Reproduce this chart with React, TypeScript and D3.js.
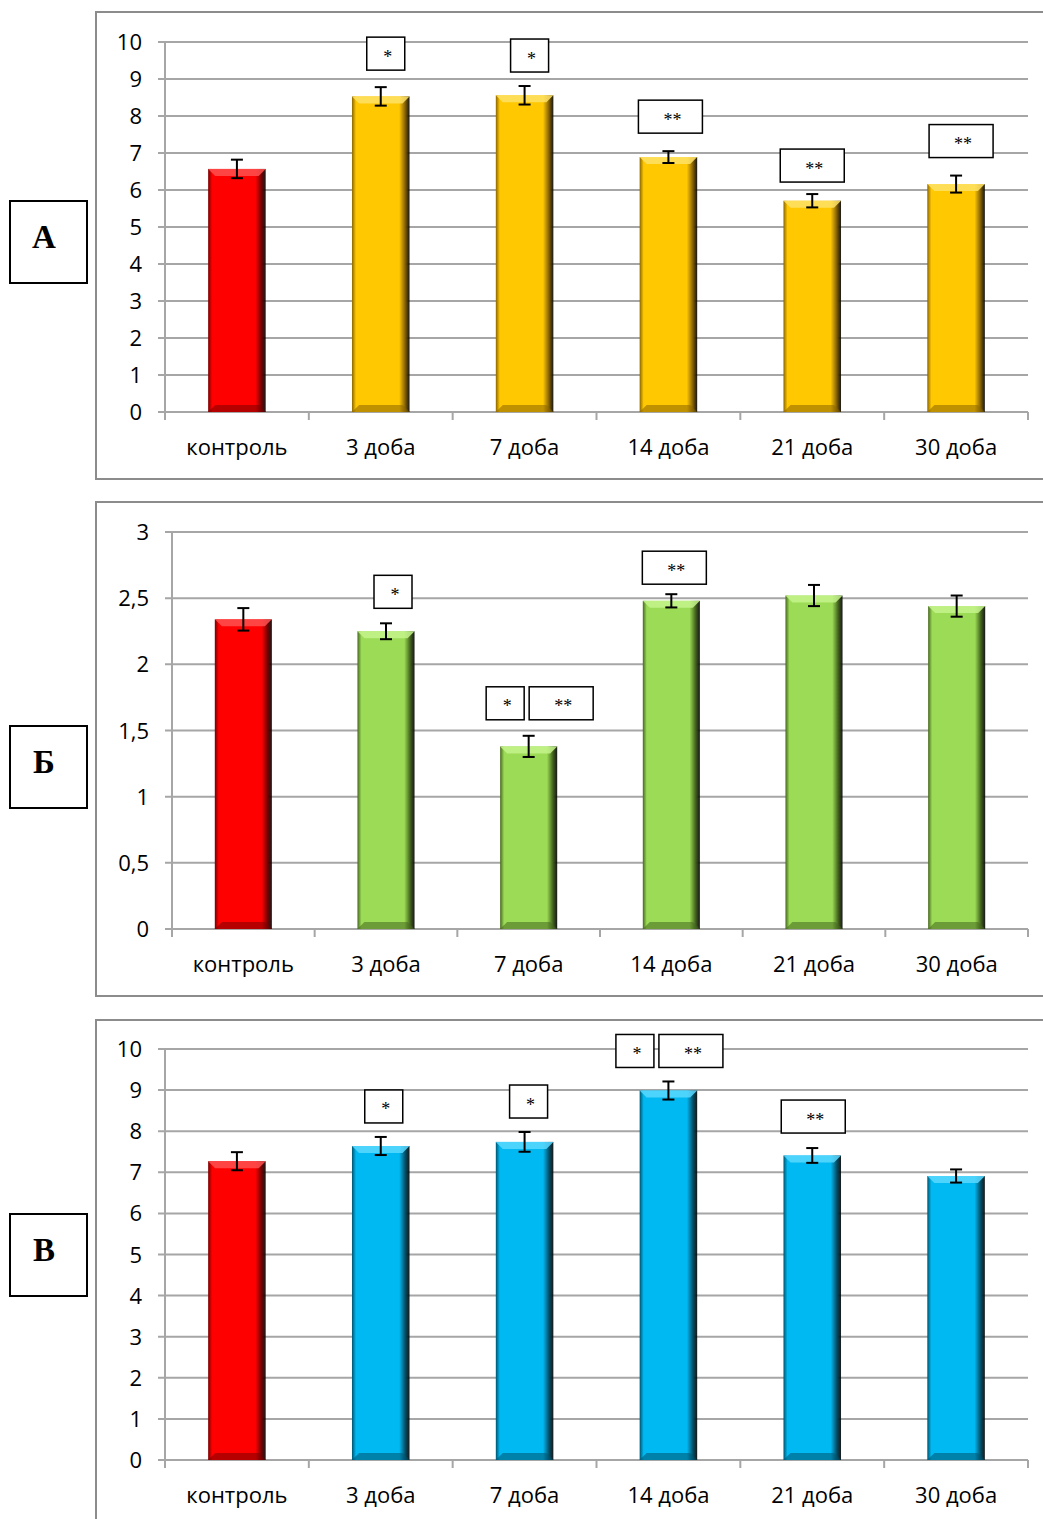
import React from "react";
import * as d3 from "d3";

const categories = ["контроль", "3 доба", "7 доба", "14 доба", "21 доба", "30 доба"];

const valuesA = [6.57, 8.53, 8.56, 6.89, 5.71, 6.16];
const errorsA = [0.25, 0.25, 0.25, 0.16, 0.18, 0.23];
const valuesB = [2.34, 2.25, 1.38, 2.48, 2.52, 2.44];
const errorsB = [0.085, 0.06, 0.08, 0.05, 0.08, 0.08];
const valuesC = [7.27, 7.64, 7.74, 8.99, 7.41, 6.91];
const errorsC = [0.22, 0.22, 0.24, 0.22, 0.18, 0.16];

const ticksA = [0, 1, 2, 3, 4, 5, 6, 7, 8, 9, 10];
const ticksB = [0, 0.5, 1, 1.5, 2, 2.5, 3];
const ticksC = [0, 1, 2, 3, 4, 5, 6, 7, 8, 9, 10];

const marksA = [[], ["*"], ["*"], ["**"], ["**"], ["**"]];
const marksB = [[], ["*"], ["*", "**"], ["**"], [], []];
const marksC = [[], ["*"], ["*"], ["*", "**"], ["**"], []];

const panelLetters = ["А", "Б", "В"];

// layout (positions / styles)
const W = 1043;
const H = 1519;
const colors: Record<string, { base: string; light: string; dark: string }> = {
  red: { base: "#FF0000", light: "#FF5050", dark: "#7a0000" },
  gold: { base: "#FFC800", light: "#FFE266", dark: "#8a6500" },
  green: { base: "#9BDB55", light: "#C4F38C", dark: "#46681f" },
  blue: { base: "#00B9F2", light: "#5AD8FF", dark: "#00546f" },
};

const panels = [
  {
    letter: panelLetters[0], values: valuesA, errors: errorsA, ticks: ticksA, marks: marksA,
    color: "gold", max: 10, frameY: 12, frameH: 467, left: 165, right: 1028, top: 42, bottom: 412,
    letterY: 201, markDx: [0, 5, 5, 2, 0, 5], markDy: [0, 17, 14, 18, 12, 18],
  },
  {
    letter: panelLetters[1], values: valuesB, errors: errorsB, ticks: ticksB, marks: marksB,
    color: "green", max: 3, frameY: 502, frameH: 494, left: 172, right: 1028, top: 532, bottom: 929,
    letterY: 726, markDx: [0, 7, 11, 3, 0, 0], markDy: [0, 15, 16, 10, 0, 0],
  },
  {
    letter: panelLetters[2], values: valuesC, errors: errorsC, ticks: ticksC, marks: marksC,
    color: "blue", max: 10, frameY: 1020, frameH: 540, left: 165, right: 1028, top: 1049, bottom: 1460,
    letterY: 1214, markDx: [0, 3, 4, 1, 1, 0], markDy: [0, 14, 14, 14, 15, 0],
  },
];

const fontSans = "'Open Sans', 'Noto Sans', sans-serif";
const fmt = (v: number) => String(v).replace(".", ",");

function Panel({ p }: { p: (typeof panels)[number] }) {
  const x = d3.scaleBand<string>().domain(categories).range([p.left, p.right]).padding(0);
  const y = d3.scaleLinear().domain([0, p.max]).range([p.bottom, p.top]);
  const bw = x.bandwidth() * 0.4;
  const bev = 7;
  const gridColor = "#A6A6A6";
  return (
    <g>
      <rect x={96} y={p.frameY} width={W} height={p.frameH} fill="none" stroke="#8C8C8C" strokeWidth={2} />
      <rect x={10} y={p.letterY} width={77} height={82} fill="#fff" stroke="#000" strokeWidth={2} />
      <text x={44} y={p.letterY + 47} textAnchor="middle" fontFamily="'Liberation Serif', 'Times New Roman', serif"
        fontWeight="bold" fontSize={33}>{p.letter}</text>
      {p.ticks.map((t) => (
        <g key={t}>
          <line x1={p.left - 7} x2={p.right} y1={y(t)} y2={y(t)} stroke={gridColor} strokeWidth={2} />
          <text x={p.left - 23} y={y(t) + 8} textAnchor="end" fontFamily={fontSans} fontSize={22} fill="#000">{fmt(t)}</text>
        </g>
      ))}
      <line x1={p.left} x2={p.left} y1={p.top} y2={p.bottom} stroke={gridColor} strokeWidth={2} />
      {d3.range(categories.length + 1).map((i) => {
        const xx = p.left + i * x.step();
        return <line key={i} x1={xx} x2={xx} y1={p.bottom} y2={p.bottom + 8} stroke={gridColor} strokeWidth={2} />;
      })}
      {categories.map((c, i) => {
        const v = p.values[i];
        const e = p.errors[i];
        const cx = (x(c) as number) + x.bandwidth() / 2;
        const x0 = cx - bw / 2;
        const y0 = y(v);
        const h = p.bottom - y0;
        const col = i === 0 ? "red" : p.color;
        const cc = colors[col];
        const marks = p.marks[i];
        const boxW = (m: string) => (m.length === 1 ? 38 : 64);
        const gap = 5;
        const total = marks.reduce((s, m) => s + boxW(m), 0) + gap * Math.max(0, marks.length - 1);
        let bx = cx + p.markDx[i] - total / 2;
        const boxBottom = y(v + e) - p.markDy[i];
        return (
          <g key={c}>
            <rect x={x0} y={y0} width={bw} height={h} fill={`url(#grad-${col})`} />
            <polygon points={`${x0},${y0} ${x0 + bw},${y0} ${x0 + bw - bev},${y0 + bev} ${x0 + bev},${y0 + bev}`}
              fill={cc.light} opacity={0.85} />
            <polygon points={`${x0},${p.bottom} ${x0 + bw},${p.bottom} ${x0 + bw - bev},${p.bottom - bev} ${x0 + bev},${p.bottom - bev}`}
              fill={cc.dark} opacity={0.55} />
            <line x1={cx} x2={cx} y1={y(v + e)} y2={y(v - e)} stroke="#000" strokeWidth={2} />
            <line x1={cx - 6} x2={cx + 6} y1={y(v + e)} y2={y(v + e)} stroke="#000" strokeWidth={2} />
            <line x1={cx - 6} x2={cx + 6} y1={y(v - e)} y2={y(v - e)} stroke="#000" strokeWidth={2} />
            <text x={cx} y={p.bottom + 43} textAnchor="middle" fontFamily={fontSans} fontSize={22} fill="#000">{c}</text>
            {marks.map((m, k) => {
              const w = boxW(m);
              const rx = bx;
              bx += w + gap;
              return (
                <g key={k}>
                  <rect x={rx} y={boxBottom - 33} width={w} height={33} fill="#fff" stroke="#000" strokeWidth={1.5} />
                  <text x={rx + w / 2 + 2} y={boxBottom - 33 / 2 + 9} textAnchor="middle"
                    fontFamily="'Liberation Serif', serif" fontSize={18} fill="#000">{m}</text>
                </g>
              );
            })}
          </g>
        );
      })}
    </g>
  );
}

export default function App() {
  return (
    <svg width={W} height={H} style={{ position: "absolute", left: 0, top: 0, background: "#fff" }}>
      <defs>
        {Object.entries(colors).map(([k, c]) => (
          <linearGradient key={k} id={`grad-${k}`} x1="0" x2="1" y1="0" y2="0">
            <stop offset="0%" stopColor={c.dark} />
            <stop offset="7%" stopColor={c.base} />
            <stop offset="82%" stopColor={c.base} />
            <stop offset="92%" stopColor={c.dark} />
            <stop offset="100%" stopColor="#000" stopOpacity={0.9} />
          </linearGradient>
        ))}
      </defs>
      <rect width={W} height={H} fill="#fff" />
      {panels.map((p, i) => (
        <Panel key={i} p={p} />
      ))}
    </svg>
  );
}
